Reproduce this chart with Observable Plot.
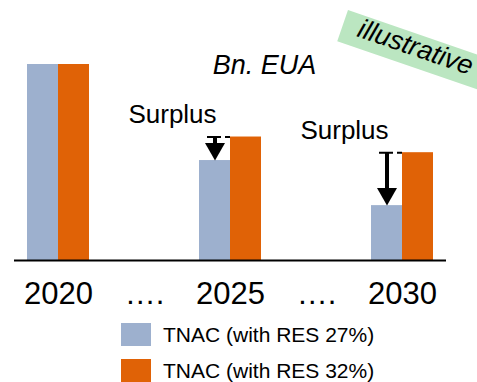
<!DOCTYPE html>
<html>
<head>
<meta charset="utf-8">
<script src="https://cdn.jsdelivr.net/npm/d3@7"></script>
<script src="https://cdn.jsdelivr.net/npm/@observablehq/plot@0.6"></script>
<style>
  html, body { margin: 0; padding: 0; background: #fff; }
  body { position: relative; width: 477px; height: 382px; overflow: hidden;
         font-family: "Liberation Sans", Arial, sans-serif; color: #000; }
  #chart svg { display: block; }
  .stamp { position: absolute; left: 348px; top: 10px; width: 175px; height: 33px;
           background: #bbe6c1; transform-origin: 0 0; transform: rotate(19deg);
           font-style: italic; font-size: 27px; line-height: 27px; padding-left: 16px;
           box-sizing: border-box; white-space: nowrap; }
  .legend { position: absolute; left: 121px; top: 323px; }
  .legend .row { display: flex; align-items: center; height: 23px; margin-bottom: 13px; }
  .legend .sw { width: 30px; height: 23px; }
  .legend .lbl { margin-left: 12px; font-size: 21px; white-space: nowrap; }
</style>
</head>
<body>
<div id="chart"></div>
<div class="stamp">illustrative</div>
<div class="legend" id="legend"></div>
<script>
// Slots along the x axis: three years with two ellipsis gaps between them
const groups = ["2020", "gap1", "2025", "gap2", "2030"];
const tickLabels = ["2020", "….", "2025", "….", "2030"];

// TNAC by year for the two renewable-energy-share scenarios (bn. EUA, indexed)
const years = ["2020", "2025", "2030"];
const res27 = [100, 51, 28];
const res32 = [100, 63, 55];

// Years where the surplus gap is annotated
const surplusYears = ["2025", "2030"];

const seriesNames = ["TNAC (with RES 27%)", "TNAC (with RES 32%)"];
const seriesColors = ["#9db0ce", "#e06206"];

const rows = years.map((g, i) => ({group: g, res27: res27[i], res32: res32[i]}));
const surplus = rows.filter(d => surplusYears.includes(d.group));

// Half-band offsets: each year band holds two side-by-side bars
const half = 31;
const blueCenter = -15.5;

// Filled downward arrowhead whose tip sits at the origin
const arrowHead = {
  draw(context, size) {
    const r = Math.sqrt(size / Math.PI);
    context.moveTo(0, 0);
    context.lineTo(-r, -1.75 * r);
    context.lineTo(r, -1.75 * r);
    context.closePath();
  }
};

const chart = Plot.plot({
  width: 477,
  height: 312,
  marginTop: 64,
  marginBottom: 52,
  marginLeft: 14,
  marginRight: 31,
  style: {fontFamily: "'Liberation Sans', Arial, sans-serif", fontSize: "31px", color: "#000", background: "transparent", overflow: "visible"},
  x: {
    domain: groups,
    paddingInner: 0.2824,
    paddingOuter: 0.1412,
    tickSize: 0,
    tickPadding: 21,
    tickFormat: d => tickLabels[groups.indexOf(d)],
    label: null
  },
  y: {domain: [0, 100], axis: null},
  marks: [
    Plot.barY(rows, {x: "group", y: "res27", fill: seriesColors[0], insetRight: half}),
    Plot.barY(rows, {x: "group", y: "res32", fill: seriesColors[1], insetLeft: half}),
    Plot.ruleY([0], {stroke: "#000", strokeWidth: 2}),
    // dashed reference at the higher scenario level
    Plot.tickY(surplus, {x: "group", y: "res32", insetLeft: 8, insetRight: half, stroke: "#000", strokeWidth: 2, strokeDasharray: "14,4"}),
    // surplus arrows
    Plot.ruleX(surplus, {x: "group", y1: "res32", y2: "res27", dx: blueCenter, stroke: "#000", strokeWidth: 4, insetBottom: 10}),
    Plot.dot(surplus, {x: "group", y: "res27", dx: blueCenter, symbol: arrowHead, r: 10, fill: "#000", stroke: "none"}),
    Plot.text(surplus, {x: "group", y: "res32", text: () => "Surplus", dx: -58, dy: -14, lineAnchor: "bottom", fontSize: 26, fill: "#000"}),
    // unit label
    Plot.text(["Bn. EUA"], {frameAnchor: "top", text: d => d, dx: 34, dy: 9, lineAnchor: "bottom", fontSize: 27, fontStyle: "italic", fill: "#000"})
  ]
});
document.getElementById("chart").append(chart);

// Legend below the chart
const legend = document.getElementById("legend");
seriesNames.forEach((name, i) => {
  const row = document.createElement("div");
  row.className = "row";
  const sw = document.createElement("div");
  sw.className = "sw";
  sw.style.background = seriesColors[i];
  const lbl = document.createElement("div");
  lbl.className = "lbl";
  lbl.textContent = name;
  row.append(sw, lbl);
  legend.append(row);
});
</script>
</body>
</html>
